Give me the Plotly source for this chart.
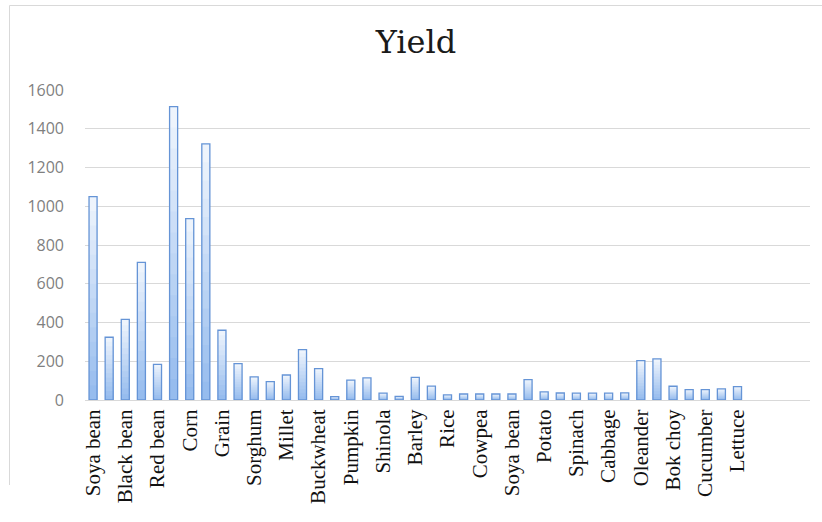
import plotly.graph_objects as go

# Yield per crop; every second bar carries a visible label
labels = ["Soya bean", "Black bean", "Red bean", "Corn", "Grain", "Sorghum", "Millet",
          "Buckwheat", "Pumpkin", "Shinola", "Barley", "Rice", "Cowpea", "Soya bean",
          "Potato", "Spinach", "Cabbage", "Oleander", "Bok choy", "Cucumber", "Lettuce"]
values = [1050, 324, 416, 710, 184, 1514, 936, 1322, 360, 188,
          119, 95, 129, 260, 162, 17, 103, 114, 35, 19,
          117, 72, 26, 31, 31, 31, 31, 105, 42, 36,
          35, 35, 35, 37, 203, 212, 71, 54, 54, 57, 69]
n_slots = 45  # category slots on the axis (last few are empty)

W, H = 822, 522
ml, mr, mt, mb = 85, 12, 90, 122

xs = list(range(len(values)))
tickvals = list(range(0, len(values), 2))

fig = go.Figure()

# vertical gradient fill: stacked overlays, lighter toward the top of each bar
top_rgb = (238, 244, 252)
bot_rgb = (150, 188, 238)
steps = 14
for k in range(steps):
    f = 1 - k / steps
    t = k / (steps - 1)
    c = tuple(round(top_rgb[i] + (bot_rgb[i] - top_rgb[i]) * t) for i in range(3))
    fig.add_trace(go.Bar(
        x=xs, y=[v * f for v in values], width=0.5,
        marker=dict(color=f"rgb{c}", line=dict(width=0)),
        hoverinfo="skip", showlegend=False))

# outline on top
fig.add_trace(go.Bar(
    x=xs, y=values, width=0.5,
    marker=dict(color="rgba(0,0,0,0)", line=dict(color="#6594d6", width=1.3)),
    showlegend=False))

px_x = lambda p: (p - ml) / (W - ml - mr)
px_y = lambda p: (H - mb - p) / (H - mt - mb)

# chart frame (left and top edges)
frame = dict(type="line", xref="paper", yref="paper",
             line=dict(color="#d9d9d9", width=1), layer="below")
fig.add_shape(**frame, x0=px_x(9.5), x1=px_x(9.5), y0=px_y(5.5), y1=px_y(485))
fig.add_shape(**frame, x0=px_x(9.5), x1=px_x(840), y0=px_y(5.5), y1=px_y(5.5))

fig.update_layout(
    width=W, height=H,
    margin=dict(l=ml, r=mr, t=mt, b=mb),
    barmode="overlay",
    paper_bgcolor="white", plot_bgcolor="white",
    title=dict(text="Yield", x=416 / W, xref="container", xanchor="center",
               y=1 - 42 / H, yref="container", yanchor="middle",
               font=dict(family="DejaVu Serif", size=32, color="#1a1a1a")),
    xaxis=dict(range=[-0.5, n_slots - 0.5], tickmode="array",
               tickvals=tickvals, ticktext=labels, tickangle=-90,
               showgrid=False, showline=True, linecolor="#d9d9d9", linewidth=1,
               ticks="", zeroline=False, automargin=False,
               tickfont=dict(family="Liberation Serif", size=21, color="#111111")),
    yaxis=dict(range=[0, 1600], dtick=200, showgrid=True, gridcolor="#d9d9d9",
               gridwidth=1, zeroline=False, showline=False, ticks="",
               ticklabelstandoff=20, automargin=False,
               tickfont=dict(family="Open Sans", size=16, color="#7f7f7f")),
)

fig.write_html("out.html")
